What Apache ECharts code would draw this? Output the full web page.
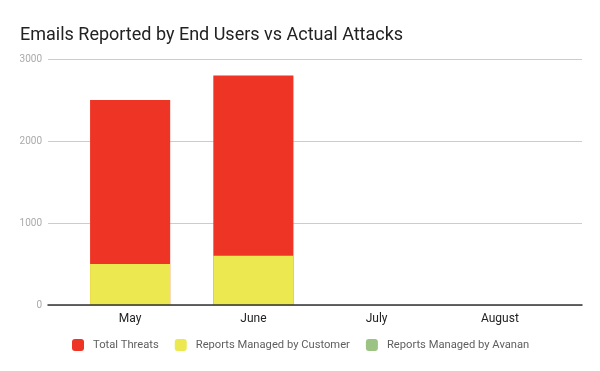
<!DOCTYPE html>
<html>
<head>
<meta charset="utf-8">
<script src="https://cdn.jsdelivr.net/npm/echarts@6/dist/echarts.min.js"></script>
<style>html,body{margin:0;padding:0;background:#fff}#c{width:600px;height:371px}</style>
</head>
<body>
<div id="c"></div>
<script>
const categories = ['May', 'June', 'July', 'August'];
const totalThreats = [2500, 2800, null, null];
const reportsCustomer = [500, 600, null, null];
const reportsAvanan = [0, 0, null, null];
const yTicks = [0, 1000, 2000, 3000];

const chart = echarts.init(document.getElementById('c'), null, {renderer: 'canvas'});
const font = 'Roboto, "Noto Sans", sans-serif';
chart.setOption({
  animation: false,
  backgroundColor: '#fff',
  title: {
    text: 'Emails Reported by End Users vs Actual Attacks',
    left: 20, top: 26, padding: 0,
    textStyle: {fontFamily: font, fontSize: 18, fontWeight: 'normal', color: '#222', lineHeight: 18}
  },
  legend: {
    left: 72, top: 339, padding: 0,
    icon: 'roundRect', itemWidth: 12, itemHeight: 12, itemGap: 16,
    textStyle: {fontFamily: font, fontSize: 11.2, color: '#5f5f5f', padding: [0, 0, 0, 4]},
    data: ['Total Threats', 'Reports Managed by Customer', 'Reports Managed by Avanan']
  },
  grid: [
    {left: 48, right: 18, top: 59, bottom: 66},
    {left: 68.5, right: 38.5, top: 59, bottom: 66}
  ],
  xAxis: [
    {gridIndex: 0, type: 'value', min: 0, max: 1, axisLabel: {show: false}, axisTick: {show: false},
     splitLine: {show: false}, axisLine: {show: true, onZero: false, lineStyle: {color: '#333', width: 1.5}}, z: 5},
    {gridIndex: 1, type: 'category', data: categories, axisLine: {show: false}, axisTick: {show: false},
     axisLabel: {fontFamily: font, fontSize: 12, color: '#222', margin: 8}}
  ],
  yAxis: [
    {gridIndex: 0, type: 'value', min: yTicks[0], max: yTicks[yTicks.length - 1], interval: 1000,
     axisLine: {show: false}, axisTick: {show: false},
     axisLabel: {fontFamily: font, fontSize: 10, color: '#aaaaaa', margin: 6, formatter: v => String(v)},
     splitLine: {lineStyle: {color: '#cccccc', width: 1}}},
    {gridIndex: 1, type: 'value', min: 0, max: 3000, show: false, splitLine: {show: false}}
  ],
  series: [
    {name: 'Total Threats', type: 'bar', xAxisIndex: 1, yAxisIndex: 1, data: totalThreats,
     barWidth: '65%', barGap: '-100%', itemStyle: {color: '#ee3424'}},
    {name: 'Reports Managed by Customer', type: 'bar', xAxisIndex: 1, yAxisIndex: 1, data: reportsCustomer,
     barWidth: '65%', barGap: '-100%', itemStyle: {color: '#ebe94f'}},
    {name: 'Reports Managed by Avanan', type: 'bar', xAxisIndex: 1, yAxisIndex: 1, data: reportsAvanan,
     barWidth: '65%', barGap: '-100%', itemStyle: {color: '#9cc383'}}
  ]
});
</script>
</body>
</html>
